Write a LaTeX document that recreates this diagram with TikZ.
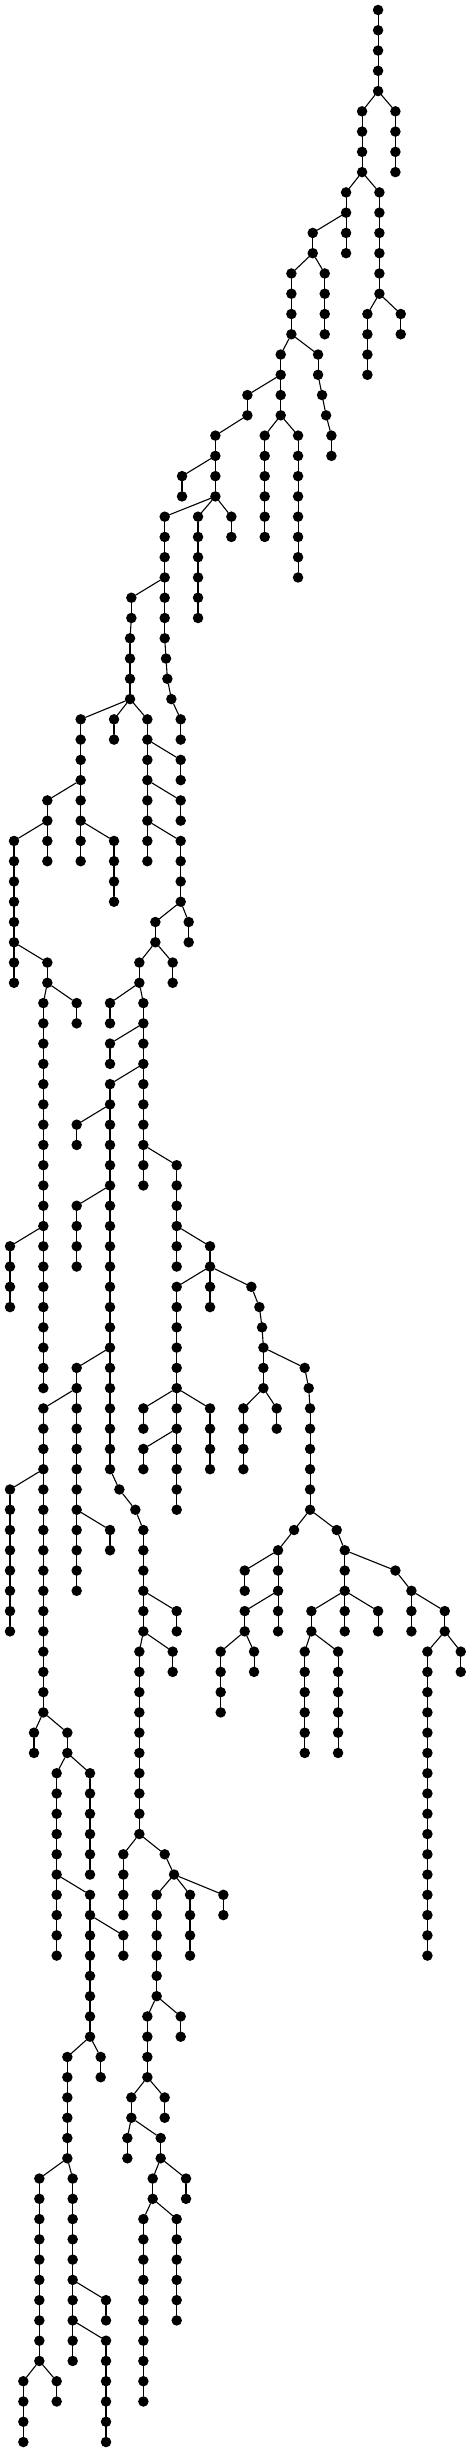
\documentclass[tikz,border=0pt]{standalone}
\begin{document}
\def\chains{1134/0/4, 1186/5/8, 1086/5/8, 1038/9/12, 1138/9/14, 938/11/12, 974/13/16, 874/13/16,
842/17/20, 742/19/20, 954/17/18, 966/19/19, 978/20/20, 994/21/22, 1102/15/18, 1202/15/16,
794/21/26, 894/21/28, 646/21/24, 546/23/24, 694/25/26, 594/25/30, 494/25/31, 394/29/30,
390/31/34, 498/32/32, 502/33/33, 514/34/34, 542/35/36, 342/35/36, 242/35/42, 142/39/42,
42/41/48, 342/41/44, 442/35/42, 542/37/38, 542/39/40, 542/41/44, 566/45/46, 466/45/46,
518/47/48, 418/47/48, 142/47/48, 230/49/50, 130/49/68, 30/61/64, 330/49/50, 430/49/58,
330/51/52, 330/53/72, 230/55/56, 530/57/62, 230/59/62, 630/61/64, 530/63/74, 754/63/63,
778/64/64, 786/65/65, 790/66/68, 914/67/67, 926/68/68, 930/69/74, 230/67/78, 130/69/84,
430/69/70, 630/69/72, 730/69/72, 830/69/70, 430/71/72, 30/73/80, 358/73/73, 406/74/74,
430/75/80, 330/75/76, 882/75/75, 834/76/80, 734/77/78, 734/79/80, 1010/75/75, 1034/76/80,
1186/77/77, 1234/78/80, 1334/79/80, 934/79/80, 1134/79/80, 530/79/80, 418/81/90, 518/81/82,
662/81/84, 762/81/82, 914/81/86, 1014/81/86, 1282/81/96, 1382/81/82, 102/85/86, 202/85/86,
170/87/96, 270/87/92, 370/91/94, 494/91/91, 522/92/92, 670/93/94, 570/93/96, 470/93/98,
270/93/100, 370/95/96, 542/99/100, 442/99/102, 302/101/102, 202/101/106, 494/103/104,
394/103/104, 382/105/106, 482/105/106, 558/107/108, 458/107/108, 430/109/118, 530/109/114,
118/107/116, 218/107/116, 318/113/114, 318/115/120, 70/117/120, 170/117/118}
\begin{tikzpicture}[x=0.033333cm, y=-2.026667cm, line join=round, line cap=round,
	dot/.style={circle, fill=black, inner sep=0pt, minimum size=1.05cm},
	edge/.style={line width=0.11cm, black}]
	\useasboundingbox (0cm,1cm) rectangle (47.1cm,-244.2cm);
	\foreach \x/\a/\b in \chains {
		\foreach \r in {\a,...,\b} \node[dot] (n\r-\x) at (\x,\r) {};
		\ifnum\a<\b \draw[edge] (n\a-\x) -- (n\b-\x); \fi
	}
	\foreach \p/\c in {4-1134/5-1086, 4-1134/5-1186, 8-1086/9-1038, 8-1086/9-1138,
		10-1038/11-938, 12-938/13-874, 12-938/13-974, 16-874/17-842, 16-874/17-954,
		18-842/19-742, 20-742/21-646, 20-842/21-794, 20-842/21-894, 18-954/19-966,
		19-966/20-978, 20-978/21-994, 14-1138/15-1102, 14-1138/15-1202, 22-646/23-546,
		24-646/25-494, 24-646/25-594, 24-646/25-694, 28-494/29-394, 30-394/31-390,
		31-494/32-498, 32-498/33-502, 33-502/34-514, 34-514/35-542, 34-390/35-242,
		34-390/35-342, 34-390/35-442, 38-242/39-142, 40-142/41-42, 40-242/41-342,
		36-442/37-542, 38-442/39-542, 40-442/41-542, 44-542/45-466, 44-542/45-566,
		46-466/47-418, 46-466/47-518, 48-418/49-330, 48-418/49-430, 46-42/47-142,
		48-142/49-130, 48-142/49-230, 60-130/61-30, 50-430/51-330, 52-430/53-330,
		54-330/55-230, 56-430/57-530, 58-330/59-230, 60-530/61-630, 62-630/63-530,
		62-630/63-754, 63-754/64-778, 64-778/65-786, 65-786/66-790, 66-790/67-914,
		67-914/68-926, 68-926/69-930, 66-330/67-230, 68-230/69-130, 68-530/69-430,
		68-530/69-630, 68-790/69-730, 68-790/69-830, 70-530/71-430, 72-130/73-30,
		72-330/73-358, 73-358/74-406, 74-406/75-430, 74-230/75-330, 74-930/75-882,
		74-930/75-1010, 75-882/76-834, 76-834/77-734, 78-834/79-734, 75-1010/76-1034,
		76-1034/77-1186, 77-1186/78-1234, 78-1234/79-1334, 78-1034/79-934,
		78-1034/79-1134, 78-430/79-530, 80-430/81-418, 80-430/81-518, 80-734/81-662,
		80-734/81-762, 80-934/81-914, 80-934/81-1014, 80-1334/81-1282, 80-1334/81-1382,
		84-130/85-102, 84-130/85-202, 86-202/87-170, 86-202/87-270, 90-418/91-370,
		90-418/91-494, 91-494/92-522, 92-522/93-470, 92-522/93-570, 92-522/93-670,
		92-170/93-270, 94-270/95-370, 98-470/99-442, 98-470/99-542, 100-270/101-202,
		100-270/101-302, 102-442/103-394, 102-442/103-494, 104-394/105-382,
		104-394/105-482, 106-482/107-458, 106-482/107-558, 108-458/109-430,
		108-458/109-530, 106-202/107-118, 106-202/107-218, 112-218/113-318,
		114-218/115-318, 116-118/117-70, 116-118/117-170}
		\draw[edge] (n\p) -- (n\c);
\end{tikzpicture}
\end{document}
